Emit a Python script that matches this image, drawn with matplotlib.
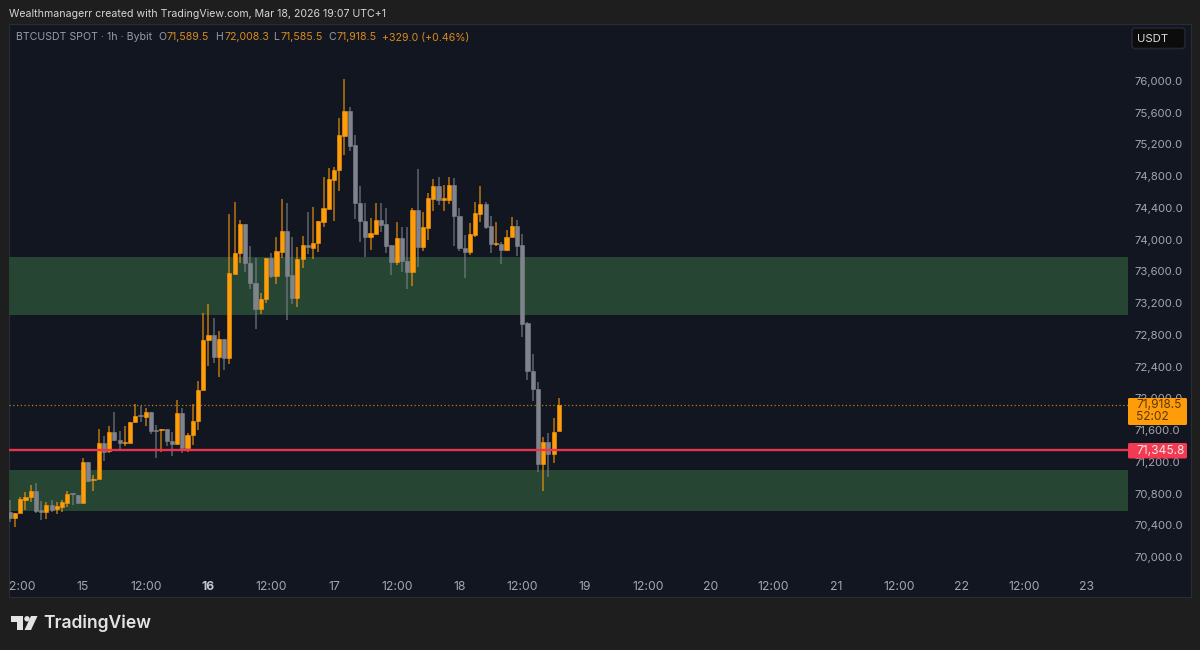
import matplotlib
matplotlib.use("Agg")
import matplotlib.pyplot as plt
import matplotlib.transforms as mtrans
from matplotlib.patches import Rectangle, FancyBboxPatch, Polygon, Circle

plt.rcParams['font.family'] = ['Inter', 'DejaVu Sans']

# Hourly candles; hour 0 = Mar 15 00:00, first candle at hour -14
first_hour = -14
opens = [70571,70495,70551,70718,70753,70836,70592,70563,70655,70601,70634,70677,70803,70785,
 70684,71201,70974,70979,71441,71336,71579,71475,71441,71441,71698,71790,71769,71832,71601,71601,71610,71466,71421,71819,71370,71538,71718,
 72105,72735,72798,72521,72748,72508,73567,73832,74197,73706,73454,73126,73252,73769,73542,73845,74109,73555,73265,73756,73933,73895,73958,
 74223,74387,74752,74878,75307,75622,75193,74462,74235,74034,74071,74248,74197,73933,73718,74021,73731,73592,74374,73908,74147,74513,74676,
 74500,74500,74689,74298,73895,73845,74059,74324,74450,74172,73945,73945,73870,74034,74172,73933,72950,72344,72118,71172,71450,71298,71589.5]
highs = [70718,70555,70760,70823,70908,70929,70710,70697,70718,70690,70718,70836,70803,70785,
 71244,71201,71034,71613,71525,71655,71832,71588,71655,71705,71929,71903,71874,71832,71664,71613,71610,71579,71979,71874,71559,71925,72218,
 73072,73189,73013,72849,72748,74324,74475,74248,74197,73920,73769,73328,73769,73832,74034,74513,74462,74034,73908,74046,74349,74412,74235,
 74790,74903,74916,75534,76025,75672,75319,74676,74462,74273,74462,74462,74399,73933,74223,74160,74160,74399,74891,74349,74588,74765,74790,
 74689,74790,74777,74399,74059,74210,74475,74676,74475,74298,74223,73971,74122,74286,74248,74071,72962,72559,72206,71513,71563,71752,72008.3]
lows = [70445,70378,70551,70592,70697,70558,70466,70479,70571,70538,70571,70634,70655,70684,
 70684,70942,70836,70979,71214,71315,71462,71361,71399,71441,71698,71705,71651,71550,71252,71327,71399,71277,71421,71307,71320,71412,71601,
 72105,72408,72445,72269,72357,72433,73567,73706,73592,73378,72874,73063,73202,73517,73441,73769,72987,73189,73151,73643,73819,73756,73845,
 74160,74387,74235,74613,75067,75118,74261,73971,73781,73870,74071,74097,73832,73555,73681,73592,73378,73416,73655,73857,73996,74361,74437,
 74361,74450,73920,73857,73517,73807,74034,74223,74134,73832,73920,73693,73857,74034,73794,72773,72231,71966,71071,70832,71008,71185,71585.5]
closes = [70495,70555,70727,70760,70836,70580,70571,70655,70592,70647,70690,70794,70794,70684,
 71201,70962,70987,71441,71327,71579,71475,71433,71450,71705,71781,71781,71832,71592,71592,71613,71462,71421,71819,71370,71538,71718,72105,
 72735,72798,72521,72748,72508,73580,73832,74197,73706,73454,73126,73252,73769,73542,73857,74109,73542,73265,73756,73933,73908,73958,74235,
 74399,74765,74878,75319,75622,75181,74462,74235,74034,74084,74248,74185,73920,73718,74021,73731,73592,74374,73908,74160,74525,74676,74500,
 74525,74689,74298,73895,73845,74071,74336,74450,74160,73945,73958,73870,74034,74172,73920,72937,72344,72118,71172,71450,71298,71576,71918.5]

zones = [(73050, 73785), (70580, 71100)]
last_price = 71918.5
marked_price = 71345.8
y_ticks = [70000 + 400 * k for k in range(16)]
x_ticks = [-12 + 12 * k for k in range(18)]
x_labels = ['12:00','15','12:00','16','12:00','17','12:00','18','12:00','19','12:00','20','12:00','21','12:00','22','12:00','23']
bold_labels = ['16']

ORANGE = '#ff9c0a'
GRAY = '#80838c'
BG = '#1e1e1e'
PANEL = '#121620'
TICK = '#a3a6ad'

fig = plt.figure(figsize=(12, 6.5), dpi=100, facecolor=BG)
W, H = 1200, 650
px = mtrans.Affine2D().scale(1, -1).translate(0, H)


def rect(x0, y0, x1, y1, **kw):
    fig.add_artist(Rectangle((x0, y0), x1 - x0, y1 - y0, transform=px, **kw))


def txt(x, y, s, color, size=7.6, ha='left', **kw):
    fig.text(x, y, s, color=color, fontsize=size, ha=ha, va='center', transform=px, **kw)


# panel behind the axes
rect(9, 24, 1191, 597, facecolor=PANEL, edgecolor='#2a2d33', linewidth=0.8, zorder=-5)

ax = fig.add_axes([9 / W, 1 - 574 / H, (1128 - 9) / W, (574 - 24) / H], facecolor='none')
ax.set_xlim(-14.15, 199.85)
ax.set_ylim(69786, 76718)
for s in ax.spines.values():
    s.set_visible(False)

for lo, hi in zones:
    ax.axhspan(lo, hi, facecolor='#264532', edgecolor='none', zorder=1)

hours = [first_hour + k for k in range(len(opens))]
for h, o, hi, lo, c in zip(hours, opens, highs, lows, closes):
    col = ORANGE if c >= o else GRAY
    ax.vlines(h, lo, hi, color=col, linewidth=1.3, alpha=0.6, zorder=3)
    ax.bar(h, abs(c - o), bottom=min(o, c), width=0.8, color=col, edgecolor=col,
           linewidth=0.4, zorder=4)

ax.axhline(last_price, color=ORANGE, linewidth=0.9, linestyle=(0, (1, 2)), alpha=0.75, zorder=2)
ax.axhline(marked_price, color='#e8344e', linewidth=1.7, zorder=5)

ax.yaxis.tick_right()
ax.set_yticks(y_ticks)
ax.set_yticklabels([f'{v:,.1f}' for v in y_ticks], fontsize=8.2, color=TICK)
ax.tick_params(axis='y', length=0, pad=5)
ax.set_xticks(x_ticks)
ax.set_xticklabels(x_labels, fontsize=8.8, color=TICK)
ax.tick_params(axis='x', length=0, pad=5)
clip = mtrans.Bbox([[9, 0], [1128, H]])
for lab in ax.get_xticklabels():
    lab.set_clip_box(clip)
    lab.set_clip_on(True)
    if lab.get_text() in bold_labels:
        lab.set_fontweight('bold')
        lab.set_color('#c4c6cc')

# header
txt(9, 14, 'Wealthmanagerr created with TradingView.com, Mar 18, 2026 19:07 UTC+1', '#d6d6d6')
HEAD = '#9a9ca6'
VAL = '#d98a1e'
y = 37.5
txt(16, y, 'BTCUSDT SPOT · 1h · Bybit', HEAD)
for xl, l, xv, v in [(158, 'O', 166, '71,589.5'), (215, 'H', 224, '72,008.3'),
                     (273, 'L', 280, '71,585.5'), (328, 'C', 336, '71,918.5')]:
    txt(xl, y, l, HEAD)
    txt(xv, y, v, VAL)
txt(382, y, '+329.0 (+0.46%)', VAL)

# currency button
fig.add_artist(FancyBboxPatch((1132, 28), 53, 20.5, boxstyle='round,pad=0,rounding_size=3',
                              transform=px, facecolor='#0c0c0d', edgecolor='#23262e', linewidth=1.2))
txt(1153, 38.5, 'USDT', '#dcdcdc', size=8.2, ha='center')

# price labels on the axis
fig.add_artist(FancyBboxPatch((1128, 398), 59, 27, boxstyle='round,pad=0,rounding_size=1.5',
                              transform=px, facecolor=ORANGE, edgecolor='none', zorder=6))
txt(1136, 405.5, '71,918.5', '#5c3a05', size=8.6, zorder=7)
txt(1136, 417.5, '52:02', '#5c3a05', size=8.6, zorder=7)
fig.add_artist(FancyBboxPatch((1128, 443), 59, 15.5, boxstyle='round,pad=0,rounding_size=1.5',
                              transform=px, facecolor='#f23a52', edgecolor='none', zorder=6))
txt(1136, 451, '71,345.8', '#f5e6e8', size=8.6, zorder=7)

# brand mark
LOGO = '#e4e4e4'
fig.add_artist(Polygon([(10.5, 616), (23, 616), (23, 630), (17, 630), (17, 621.5), (10.5, 621.5)],
                       closed=True, transform=px, facecolor=LOGO, edgecolor='none'))
fig.add_artist(Circle((27, 618.8), 2.7, transform=px, facecolor=LOGO, edgecolor='none'))
fig.add_artist(Polygon([(31, 616), (37.5, 616), (31, 630), (24.5, 630)],
                       closed=True, transform=px, facecolor=LOGO, edgecolor='none'))
txt(43, 623.5, 'TradingView', LOGO, size=12.6, fontweight='semibold')

fig.savefig('out.png', dpi=100, facecolor=BG)
